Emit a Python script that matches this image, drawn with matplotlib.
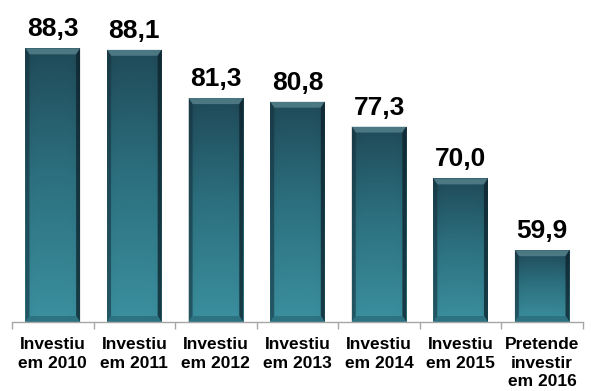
import numpy as np
import matplotlib
matplotlib.use("Agg")
from matplotlib import pyplot as plt
from matplotlib.patches import Rectangle, Polygon
from matplotlib.colors import LinearSegmentedColormap

plt.rcParams['font.family'] = ['Liberation Sans', 'DejaVu Sans']

categories = ["Investiu\nem 2010", "Investiu\nem 2011", "Investiu\nem 2012",
              "Investiu\nem 2013", "Investiu\nem 2014", "Investiu\nem 2015",
              "Pretende\ninvestir\nem 2016"]
values = [88.3, 88.1, 81.3, 80.8, 77.3, 70.0, 59.9]
value_labels = ["88,3", "88,1", "81,3", "80,8", "77,3", "70,0", "59,9"]

W, H = 591, 391
fig = plt.figure(figsize=(W / 100, H / 100), dpi=100)
ax = fig.add_axes([12 / W, 1 - 322 / H, 571 / W, 322 / H])

ymin, ymax = 49.8, 95.1
ax.set_xlim(-0.5, len(values) - 0.5)
ax.set_ylim(ymin, ymax)

# size of one pixel in data units
px_x = len(values) / 571
px_y = (ymax - ymin) / 322

grad = LinearSegmentedColormap.from_list("teal", ["#3b909f", "#2c6f7e", "#1d4250"])
width = 0.67

for i, v in enumerate(values):
    x0, x1 = i - width / 2, i + width / 2
    rect = Rectangle((x0, ymin), width, v - ymin, facecolor="none", edgecolor="none")
    ax.add_patch(rect)
    # light at the bottom, dark at the top, a bit darker toward the sides
    ny, nx = 200, 60
    yy = np.linspace(0, 1, ny)[:, None]
    xx = np.linspace(-1, 1, nx)[None, :]
    img = yy * np.ones_like(xx) + 0.12 * np.abs(xx) ** 6
    im = ax.imshow(img, cmap=grad, vmin=0, vmax=1.1, origin="lower",
                   extent=(x0, x1, ymin, v), aspect="auto", interpolation="bilinear", zorder=2)
    im.set_clip_path(rect)

    bx, by = 4 * px_x, 6 * px_y
    # top bevel
    ax.add_patch(Polygon([(x0, v), (x1, v), (x1 - bx, v - by), (x0 + bx, v - by)],
                         closed=True, facecolor="#6a97a1", edgecolor="none", alpha=0.6, zorder=3))
    # left and right bevels
    ax.add_patch(Polygon([(x0, v), (x0 + bx, v - by), (x0 + bx, ymin + by), (x0, ymin)],
                         closed=True, facecolor="#163440", edgecolor="none", alpha=0.6, zorder=3))
    ax.add_patch(Polygon([(x1, v), (x1 - bx, v - by), (x1 - bx, ymin + by), (x1, ymin)],
                         closed=True, facecolor="#0d222b", edgecolor="none", alpha=0.75, zorder=3))
    # bottom bevel
    ax.add_patch(Polygon([(x0, ymin), (x1, ymin), (x1 - bx, ymin + by), (x0 + bx, ymin + by)],
                         closed=True, facecolor="#2a6c7a", edgecolor="none", alpha=0.8, zorder=3))

    ax.text(i, v + 12 * px_y, value_labels[i], ha="center", va="baseline",
            fontsize=19, fontweight="bold", color="black")

for s in ["top", "right", "left"]:
    ax.spines[s].set_visible(False)
ax.spines["bottom"].set_color("#a6a6a6")
ax.spines["bottom"].set_linewidth(1.0)
ax.spines["bottom"].set_zorder(4)

ax.set_yticks([])
ax.set_xticks(range(len(values)))
ax.set_xticklabels(categories, fontsize=12.5, fontweight="bold", linespacing=1.3, va="top")
ax.tick_params(axis="x", which="major", length=0, pad=11)
ax.set_xticks(np.arange(-0.5, len(values), 1.0), minor=True)
ax.tick_params(axis="x", which="minor", length=5, color="#a6a6a6", width=1.0)

fig.savefig("out.png", dpi=100)
